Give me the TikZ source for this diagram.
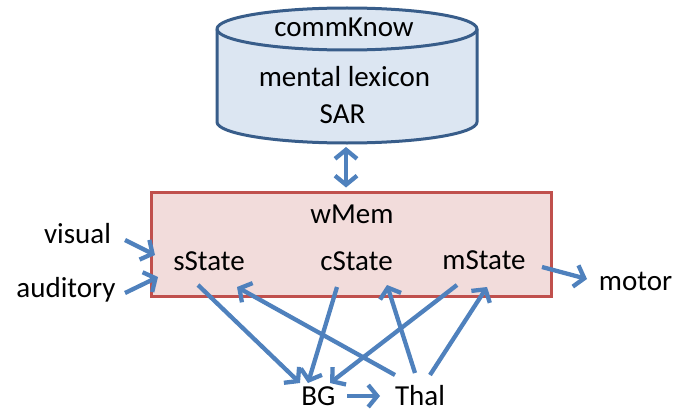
\documentclass[tikz,border=0pt]{standalone}
\usepackage{fontspec}
\setmainfont{Carlito}
\usetikzlibrary{arrows.meta,calc}
\definecolor{cylfill}{HTML}{DCE6F2}
\definecolor{cylline}{HTML}{385D8A}
\definecolor{memfill}{HTML}{F2DCDB}
\definecolor{memline}{HTML}{C0504D}
\definecolor{arr}{HTML}{4F81BD}
\tikzset{
  lbl/.style={anchor=base, inner sep=0pt, font=\fontsize{29}{34}\selectfont},
  conn/.style={draw=arr, line width=4.3pt, -{Straight Barb[length=9pt,width=22pt]}},
  dconn/.style={draw=arr, line width=4.3pt, {Straight Barb[length=9pt,width=22pt]}-{Straight Barb[length=9pt,width=22pt]}},
}
\begin{document}
\begin{tikzpicture}[x=1pt,y=1pt]
\useasboundingbox (0,0) rectangle (688,-412);
% cylinder
\filldraw[fill=cylfill, draw=cylline, line width=3pt]
  (217,-29) -- (217,-122) arc[start angle=180,end angle=360,x radius=130,y radius=21]
  -- (477,-29) arc[start angle=0,end angle=180,x radius=130,y radius=21] -- cycle;
\draw[cylline, line width=3pt] (217,-29) arc[start angle=180,end angle=360,x radius=130,y radius=21];
\coordinate (cyl) at (346,-143);
\node[lbl] (commKnow) at (344,-37) {commKnow};
\node[lbl] (lexicon) at (344.5,-86) {mental lexicon};
\node[lbl] (SAR) at (342.5,-123) {SAR};
% working memory box
\node[draw=memline, fill=memfill, line width=3pt, minimum width=400pt, minimum height=104pt, inner sep=0pt] (box) at (351,-244) {};
\node[lbl] (wMem) at (352,-223) {wMem};
\node[lbl] (sState) at (209,-270) {sState};
\node[lbl] (cState) at (356.5,-270) {cState};
\node[lbl] (mState) at (484,-269) {mState};
\node[lbl] (visual) at (77.5,-243) {visual};
\node[lbl] (auditory) at (66,-297) {auditory};
\node[lbl] (motor) at (635.5,-290) {motor};
\node[lbl] (BG) at (318.5,-405) {BG};
\node[lbl] (Thal) at (420,-405) {Thal};
% connectors
\draw[dconn] ($(cyl)+(0,-4)$) -- ($(cyl |- box.north)+(0,3)$);
\draw[conn] ($(visual.base)+(47.5,3)$) -- ($(sState.base)+(-54,15)$);
\draw[conn] ($(auditory.base)+(59,4)$) -- ($(sState.base)+(-51,-7)$);
\draw[conn] ($(mState.base)+(58,2)$) -- ($(motor.base)+(-48.5,11)$);
\draw[conn] ($(sState.base)+(-11,-15)$) -- ($(BG.base)+(-18.5,22)$);
\draw[conn] ($(cState.base)+(-19.5,-17)$) -- ($(BG.base)+(-10.5,22)$);
\draw[conn] ($(mState.base)+(-27,-16)$) -- ($(BG.base)+(11.5,22)$);
\draw[conn] ($(Thal.base)+(-25,30)$) -- ($(sState.base)+(28,-17)$);
\draw[conn] ($(Thal.base)+(-5,32)$) -- ($(cState.base)+(30.5,-15)$);
\draw[conn] ($(Thal.base)+(10,30)$) -- ($(mState.base)+(3,-18)$);
\draw[conn] ($(BG.base)+(28.5,9)$) -- ($(Thal.base)+(-40,9)$);
\end{tikzpicture}
\end{document}
